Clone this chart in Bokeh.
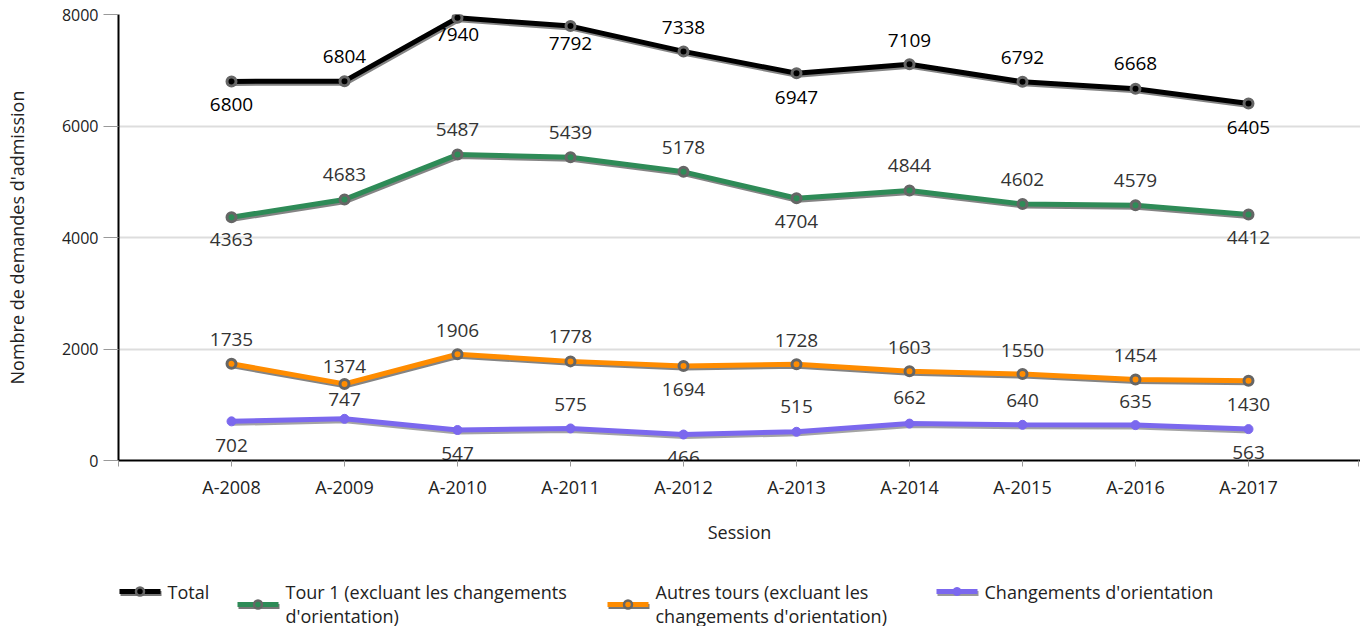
from bokeh.plotting import figure
from bokeh.models import Range1d, FixedTicker, ColumnDataSource
from bokeh.layouts import column
from bokeh.embed import file_html
from bokeh.resources import INLINE
from bokeh.core.properties import value

# ---------------- data ----------------
sessions = ["A-2008", "A-2009", "A-2010", "A-2011", "A-2012",
            "A-2013", "A-2014", "A-2015", "A-2016", "A-2017"]
total = [6800, 6804, 7940, 7792, 7338, 6947, 7109, 6792, 6668, 6405]
tour1 = [4363, 4683, 5487, 5439, 5178, 4704, 4844, 4602, 4579, 4412]
autres = [1735, 1374, 1906, 1778, 1694, 1728, 1603, 1550, 1454, 1430]
changements = [702, 747, 547, 575, 466, 515, 662, 640, 635, 563]
y_ticks = [0, 2000, 4000, 6000, 8000]
series_names = ["Total",
                "Tour 1 (excluant les changements\nd'orientation)",
                "Autres tours (excluant les\nchangements d'orientation)",
                "Changements d'orientation"]

# label placement (screen px, + = below point) -- styling only
total_off = [23, -25, 17, 17, -24, 24, -24, -24, -25, 24]
tour1_off = [22, -25, -25, -25, -24, 23, -25, -24, -25, 23]
autres_off = [-24, -17, -24, -25, 23, -24, -24, -24, -24, 24]
chg_off = [24, -19, 23, -24, 23, -25, -26, -24, -24, 23]

colors = ["#000000", "#2e8b57", "#ff8c00", "#7b68ee"]
label_colors = ["#000000", "#333333", "#333333", "#333333"]
FONT = "Open Sans"

# ---------------- layout ----------------
W = 1360
LEFT, TOP, BOTTOM = 118, 14, 100
FRAME_W = W - LEFT
FRAME_H = 446
CAT_PX = 113.0
Y_MAX = 8000

x_start = -1
x_end = x_start + FRAME_W / CAT_PX

p = figure(width=W, height=TOP + FRAME_H + BOTTOM,
           x_range=Range1d(x_start, x_end), y_range=Range1d(0, Y_MAX),
           output_backend="svg", toolbar_location=None,
           min_border_left=LEFT, min_border_right=0,
           min_border_top=TOP, min_border_bottom=BOTTOM)
p.outline_line_color = None
p.background_fill_color = "white"
p.border_fill_color = "white"

xs = list(range(len(sessions)))
px_x = 1.0 / CAT_PX
px_y = Y_MAX / FRAME_H

# axes
end_tick = x_end - 0.02
p.xaxis.ticker = FixedTicker(ticks=[x_start] + xs + [end_tick])
overrides = {i: s for i, s in zip(xs, sessions)}
overrides[x_start] = ""
overrides[end_tick] = ""
p.xaxis.major_label_overrides = overrides
p.yaxis.ticker = FixedTicker(ticks=y_ticks)
p.xaxis.minor_tick_line_color = None
p.yaxis.minor_tick_line_color = None

p.xaxis.axis_line_color = "#000000"
p.yaxis.axis_line_color = "#000000"
p.xaxis.axis_line_width = 2
p.yaxis.axis_line_width = 2
p.xaxis.major_tick_line_color = "#999999"
p.yaxis.major_tick_line_color = "#999999"
p.xaxis.major_tick_in = 0
p.xaxis.major_tick_out = 6
p.yaxis.major_tick_in = 0
p.yaxis.major_tick_out = 15

p.xaxis.major_label_text_font = FONT
p.yaxis.major_label_text_font = FONT
p.xaxis.major_label_text_font_size = "18px"
p.yaxis.major_label_text_font_size = "16px"
p.xaxis.major_label_text_color = "#222222"
p.yaxis.major_label_text_color = "#222222"
p.xaxis.major_label_standoff = 8
p.yaxis.major_label_standoff = 5

p.xaxis.axis_label = "Session"
p.yaxis.axis_label = "Nombre de demandes d'admission"
for ax in (p.xaxis, p.yaxis):
    ax.axis_label_text_font = FONT
    ax.axis_label_text_font_size = "18px"
    ax.axis_label_text_font_style = "normal"
    ax.axis_label_text_color = "#222222"
p.xaxis.axis_label_standoff = 18
p.yaxis.axis_label_standoff = 30

p.xgrid.grid_line_color = None
p.ygrid.grid_line_color = "#dddddd"
p.ygrid.grid_line_width = 2

all_series = [total, tour1, autres, changements]
all_offsets = [total_off, tour1_off, autres_off, chg_off]

for i, (vals, offs) in enumerate(zip(all_series, all_offsets)):
    col = colors[i]
    shadow = "#9a9a9a" if i == 3 else "#777777"
    src = ColumnDataSource(dict(
        x=xs, y=vals,
        sx=[x + px_x for x in xs], sy=[v - 2 * px_y for v in vals],
        txt=[str(v) for v in vals], off=offs))
    p.line("sx", "sy", source=src, line_color=shadow, line_width=5, line_alpha=0.9)
    p.line("x", "y", source=src, line_color=col, line_width=5)
    if i == 3:
        p.scatter("x", "y", source=src, size=9, fill_color=col, line_color=col, line_width=1)
    else:
        p.scatter("x", "y", source=src, size=9, fill_color=col, line_color="#666666", line_width=3)
    p.text("x", "y", text="txt", source=src, y_offset="off",
           text_align="center", text_baseline="middle",
           text_font=value(FONT), text_font_size="19px",
           text_color=label_colors[i])

# ---------------- legend (separate strip) ----------------
LH = 66
LY0 = TOP + FRAME_H + BOTTOM
lp = figure(width=W, height=LH, x_range=Range1d(LEFT, W),
            y_range=Range1d(LY0 + LH, LY0),
            output_backend="svg", toolbar_location=None,
            min_border_left=LEFT, min_border_right=0,
            min_border_top=0, min_border_bottom=0)
lp.axis.visible = False
lp.grid.visible = False
lp.outline_line_color = None
lp.background_fill_color = "white"
lp.border_fill_color = "white"

leg_x = [119, 237, 607, 936]
leg_y = [591, 604, 604, 591]
sw_len = 41
for i, name in enumerate(series_names):
    x0 = leg_x[i]
    y0 = leg_y[i]
    col = colors[i]
    shadow = "#9a9a9a" if i == 3 else "#777777"
    lp.line([x0 + 1, x0 + sw_len + 1], [y0 + 2, y0 + 2], line_color=shadow, line_width=5)
    lp.line([x0, x0 + sw_len], [y0, y0], line_color=col, line_width=5)
    if i == 3:
        lp.scatter([x0 + sw_len / 2], [y0], size=8, fill_color=col, line_color=col)
    else:
        lp.scatter([x0 + sw_len / 2], [y0], size=8, fill_color=col, line_color="#666666", line_width=2.5)
    lines = name.split("\n")
    for j, ln in enumerate(lines):
        lp.text([x0 + sw_len + 7], [591 + 24 * j], text=[ln],
                text_align="left", text_baseline="middle",
                text_font=value(FONT), text_font_size="18px",
                text_color="#222222")

layout = column(p, lp)
open("out.html", "w").write(file_html(layout, INLINE))
